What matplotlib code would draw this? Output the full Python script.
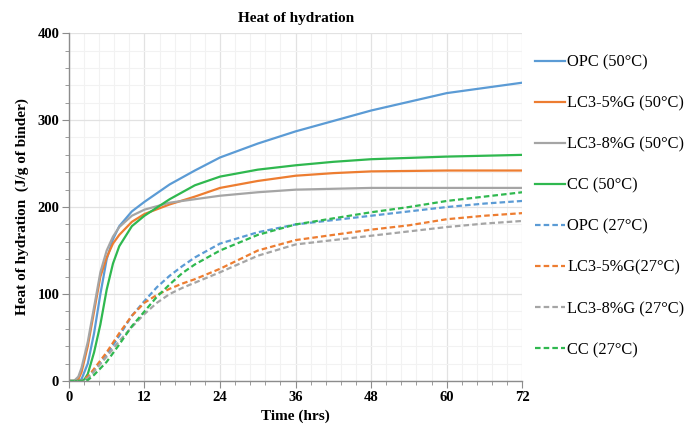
import matplotlib
matplotlib.use('Agg')
import matplotlib.pyplot as plt
from matplotlib.ticker import MultipleLocator

# data (time in hrs, heat in J/g of binder)
t_opc50 = [0, 1.5, 2, 3, 4, 5, 6, 7, 8, 10, 12, 16, 20, 24, 30, 36, 42, 48, 54, 60, 66, 72]
opc50 = [0, 0, 2, 20, 55, 100, 140, 163, 178, 195, 206, 226, 242, 257, 273, 287, 299, 311, 321, 331, 337, 343]

t_lc5_50 = [0, 1, 1.5, 2, 3, 4, 5, 6, 7, 8, 10, 12, 16, 20, 24, 30, 36, 42, 48, 60, 72]
lc5_50 = [0, 0, 2, 10, 40, 80, 120, 142, 158, 168, 183, 192, 203, 212, 222, 230, 236, 239, 241, 242, 242]

t_lc8_50 = [0, 0.8, 1.5, 2, 3, 4, 5, 6, 7, 8, 10, 12, 16, 20, 24, 30, 36, 48, 72]
lc8_50 = [0, 0, 5, 15, 45, 85, 125, 150, 166, 177, 190, 197, 205, 209, 213, 217, 220, 222, 222]

t_cc50 = [0, 2, 2.5, 3, 4, 5, 6, 7, 8, 10, 12, 16, 20, 24, 30, 36, 42, 48, 60, 72]
cc50 = [0, 0, 2, 8, 33, 65, 105, 135, 155, 178, 190, 209, 225, 235, 243, 248, 252, 255, 258, 260]

t_27 = [0, 2, 3, 4, 6, 8, 10, 12, 14, 16, 18, 20, 24, 30, 36, 42, 48, 54, 60, 66, 72]
opc27 = [0, 0, 4, 12, 30, 52, 75, 92, 108, 121, 132, 142, 158, 171, 180, 185, 190, 195, 200, 204, 207]
lc5_27 = [0, 0, 5, 14, 33, 55, 75, 90, 99, 106, 112, 117, 129, 150, 162, 168, 174, 179, 186, 190, 193]
lc8_27 = [0, 0, 3, 11, 28, 46, 62, 77, 90, 100, 107, 113, 125, 144, 157, 162, 167, 172, 177, 181, 184]
cc27 = [0, 0, 1, 7, 22, 42, 63, 80, 97, 111, 124, 134, 150, 168, 180, 187, 194, 200, 207, 212, 217]

blue = '#5B9BD5'
orange = '#ED7D31'
grey = '#A5A5A5'
green = '#2FB84F'

plt.rcParams['font.family'] = 'Liberation Serif'

fig = plt.figure(figsize=(6.89, 4.30), dpi=100)
ax = fig.add_axes([0.100, 0.114, 0.658, 0.809])

lw = 1.6
dash = (0, (2.5, 1.4))
ax.plot(t_opc50, opc50, color=blue, lw=lw, label='OPC (50°C)')
ax.plot(t_lc5_50, lc5_50, color=orange, lw=lw, label='LC3-5%G (50°C)')
ax.plot(t_lc8_50, lc8_50, color=grey, lw=lw, label='LC3-8%G (50°C)')
ax.plot(t_cc50, cc50, color=green, lw=lw, label='CC (50°C)')
ax.plot(t_27, opc27, color=blue, lw=lw, ls=dash, label='OPC (27°C)')
ax.plot(t_27, lc5_27, color=orange, lw=lw, ls=dash, label='LC3-5%G(27°C)')
ax.plot(t_27, lc8_27, color=grey, lw=lw, ls=dash, label='LC3-8%G (27°C)')
ax.plot(t_27, cc27, color=green, lw=lw, ls=dash, label='CC (27°C)')

ax.set_xlim(0, 72)
ax.set_ylim(0, 400)
ax.xaxis.set_major_locator(MultipleLocator(12))
ax.xaxis.set_minor_locator(MultipleLocator(2.4))
ax.yaxis.set_major_locator(MultipleLocator(100))
ax.yaxis.set_minor_locator(MultipleLocator(20))
ax.grid(which='major', color='#e2e2e2', lw=0.9)
ax.grid(which='minor', color='#f2f2f2', lw=0.8)
ax.set_axisbelow(True)

for s in ['top', 'right']:
    ax.spines[s].set_visible(False)
for s in ['left', 'bottom']:
    ax.spines[s].set_color('#8c8c8c')
    ax.spines[s].set_linewidth(1.0)
ax.tick_params(which='major', length=5, color='#8c8c8c', labelsize=10.5, pad=2)
ax.tick_params(which='minor', length=3, color='#8c8c8c')
for lab in ax.get_xticklabels() + ax.get_yticklabels():
    lab.set_fontweight('bold')

ax.set_title('Heat of hydration', fontsize=11, fontweight='semibold', pad=8)
ax.set_xlabel('Time (hrs)', fontsize=11, fontweight='bold', labelpad=4)
ax.set_ylabel('Heat of hydration  (J/g of binder)', fontsize=11, fontweight='bold', labelpad=6)

fig.legend(loc='upper left', bbox_to_anchor=(0.772, 0.881), frameon=False,
           fontsize=11.8, handlelength=1.8, handletextpad=0.15, labelspacing=1.53,
           borderaxespad=0, borderpad=0.2)

fig.savefig('out.png', dpi=100)
